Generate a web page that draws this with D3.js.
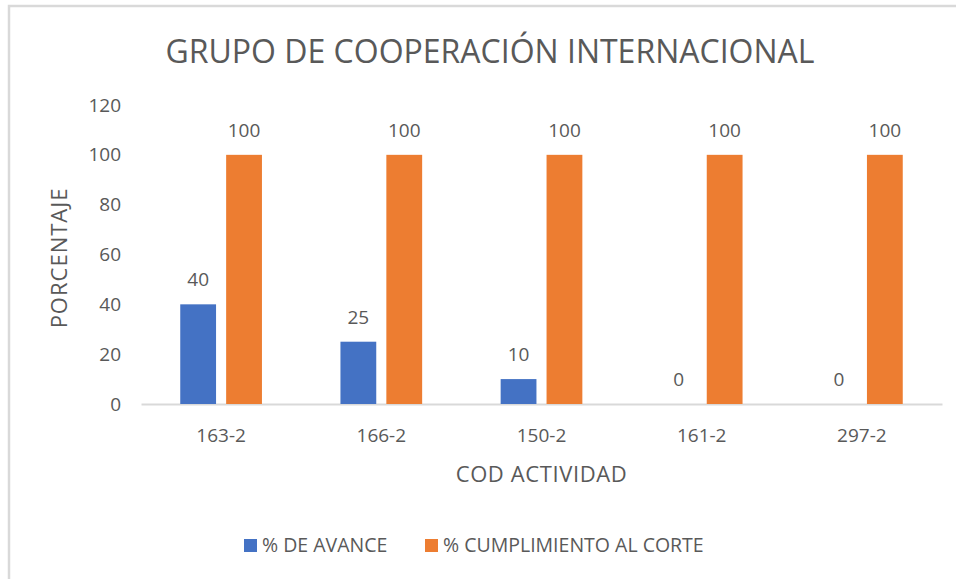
<!DOCTYPE html>
<html>
<head>
<meta charset="utf-8">
<script src="https://cdn.jsdelivr.net/npm/d3@7"></script>
<style>
  body { margin: 0; background: #fff; }
  text { font-family: 'Open Sans', sans-serif; fill: #595959; }
</style>
</head>
<body>
<svg width="956" height="579"></svg>
<script>
// data
const categories = ['163-2', '166-2', '150-2', '161-2', '297-2'];
const seriesNames = ['% DE AVANCE', '% CUMPLIMIENTO AL CORTE'];
const avance = [40, 25, 10, 0, 0];
const cumplimiento = [100, 100, 100, 100, 100];
const yTicks = [0, 20, 40, 60, 80, 100, 120];

const colors = ['#4472C4', '#ED7D31'];

const svg = d3.select('svg');

const margin = { top: 105, bottom: 175, left: 141, right: 14 };
const width = +svg.attr('width') - margin.left - margin.right;
const height = +svg.attr('height') - margin.top - margin.bottom;

// chart frame
svg.append('rect')
    .attr('x', 9)
    .attr('y', 6)
    .attr('width', 980)
    .attr('height', 620)
    .style('fill', 'none')
    .style('stroke', '#d9d9d9')
    .style('stroke-width', 2.5);

const chart = svg.append('g')
    .attr('transform', `translate(${margin.left},${margin.top})`);

// scales
const x0 = d3.scaleBand()
    .domain(categories)
    .range([0, width])
    .paddingInner(0.49)
    .paddingOuter(0.245);

const x1 = d3.scaleBand()
    .domain(seriesNames)
    .range([0, x0.bandwidth()])
    .paddingInner(0.22);

const y = d3.scaleLinear()
    .domain([0, 120])
    .range([height, 0]);

// y axis
const yAxis = chart.append('g')
    .call(d3.axisLeft(y).tickValues(yTicks).tickSize(0).tickPadding(20));
yAxis.select('.domain').remove();
yAxis.selectAll('text')
    .style('font-size', '19px')
    .style('font-family', "'Open Sans', sans-serif")
    .style('fill', '#595959');

// x axis
const xAxis = chart.append('g')
    .attr('transform', `translate(0,${height})`)
    .call(d3.axisBottom(x0).tickSize(0).tickSizeOuter(0).tickPadding(25));
xAxis.select('.domain')
    .style('stroke', '#d9d9d9')
    .style('stroke-width', 2);
xAxis.selectAll('text')
    .style('font-size', '19px')
    .style('font-family', "'Open Sans', sans-serif")
    .style('fill', '#595959');

// bars
const rows = categories.map((c, i) => ({ cat: c, values: [avance[i], cumplimiento[i]] }));

const groups = chart.append('g')
    .selectAll('g')
    .data(rows)
    .enter()
    .append('g')
    .attr('transform', d => `translate(${x0(d.cat)},0)`);

groups.selectAll('rect')
    .data(d => d.values.map((v, j) => ({ key: seriesNames[j], value: v, j: j })))
    .enter()
    .append('rect')
    .attr('x', d => x1(d.key))
    .attr('y', d => y(d.value))
    .attr('width', x1.bandwidth())
    .attr('height', d => height - y(d.value))
    .style('fill', d => colors[d.j]);

// data labels
groups.selectAll('text.lbl')
    .data(d => d.values.map((v, j) => ({ key: seriesNames[j], value: v })))
    .enter()
    .append('text')
    .attr('class', 'lbl')
    .attr('x', d => x1(d.key) + x1.bandwidth() / 2)
    .attr('y', d => y(d.value) - 18)
    .style('text-anchor', 'middle')
    .style('font-size', '19px')
    .text(d => d.value);

// title
svg.append('text')
    .attr('x', 490)
    .attr('y', 63)
    .style('text-anchor', 'middle')
    .style('font-size', '32px')
    .text('GRUPO DE COOPERACIÓN INTERNACIONAL');

// axis titles
svg.append('text')
    .attr('x', margin.left + width / 2)
    .attr('y', 482)
    .style('text-anchor', 'middle')
    .style('font-size', '22px')
    .style('letter-spacing', '0.6px')
    .text('COD ACTIVIDAD');

svg.append('text')
    .attr('transform', 'translate(67,258) rotate(-90)')
    .style('text-anchor', 'middle')
    .style('font-size', '22px')
    .style('letter-spacing', '1px')
    .text('PORCENTAJE');

// legend
const legendX = [244, 425];
const legend = svg.append('g')
    .selectAll('g')
    .data(seriesNames)
    .enter()
    .append('g')
    .attr('transform', (d, i) => `translate(${legendX[i]},539)`);

legend.append('rect')
    .attr('width', 13)
    .attr('height', 13)
    .style('fill', (d, i) => colors[i]);

legend.append('text')
    .attr('x', 18)
    .attr('y', 13)
    .style('font-size', '19.5px')
    .text(d => d);
</script>
</body>
</html>
